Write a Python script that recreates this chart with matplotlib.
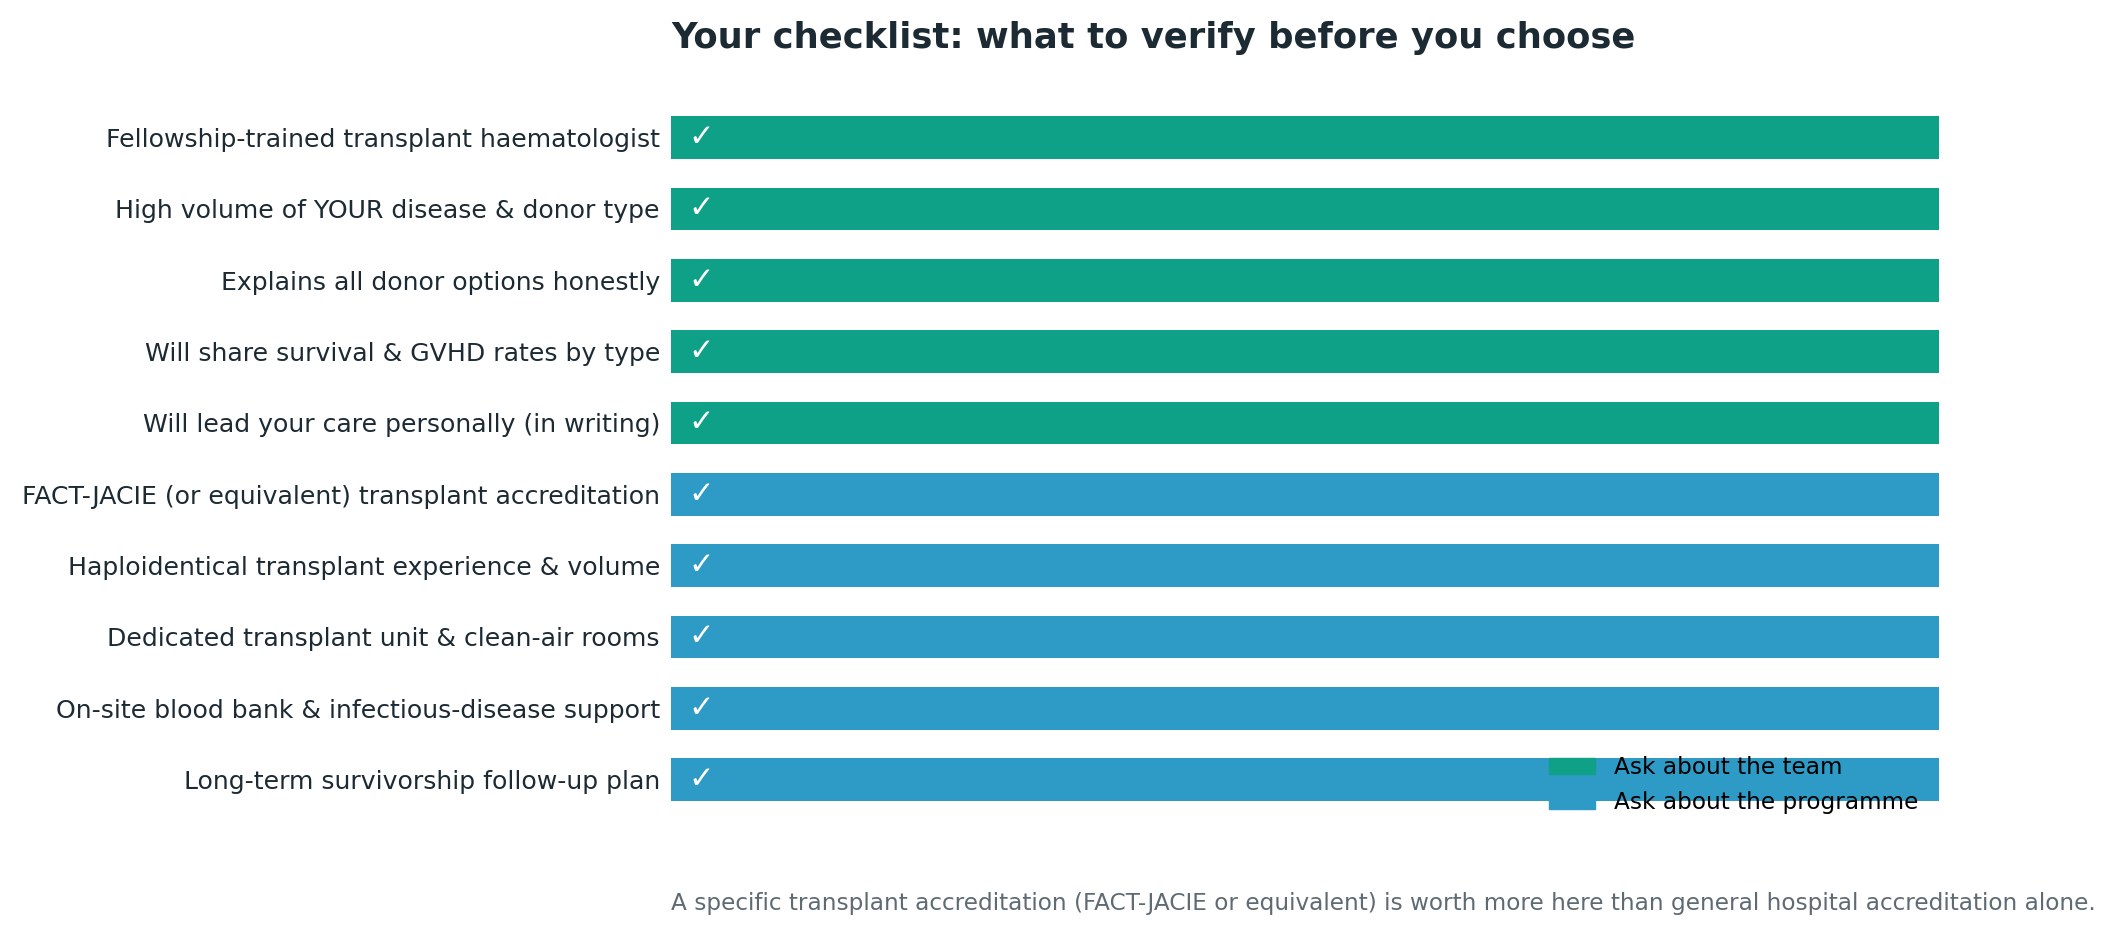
import matplotlib
matplotlib.use("Agg")
import matplotlib.pyplot as plt
from matplotlib.patches import Patch

categories = [
    "Fellowship-trained transplant haematologist",
    "High volume of YOUR disease & donor type",
    "Explains all donor options honestly",
    "Will share survival & GVHD rates by type",
    "Will lead your care personally (in writing)",
    "FACT-JACIE (or equivalent) transplant accreditation",
    "Haploidentical transplant experience & volume",
    "Dedicated transplant unit & clean-air rooms",
    "On-site blood bank & infectious-disease support",
    "Long-term survivorship follow-up plan",
]
groups = ["team"] * 5 + ["programme"] * 5
values = [1] * 10
group_labels = {"team": "Ask about the team", "programme": "Ask about the programme"}
group_colors = {"team": "#0ea187", "programme": "#2e9ac6"}

title = "Your checklist: what to verify before you choose"
footnote = ("A specific transplant accreditation (FACT-JACIE or equivalent) is worth "
            "more here than general hospital accreditation alone.")

fig = plt.figure(figsize=(21.17, 9.35), dpi=100)
ax = fig.add_axes([0.317, 0.128, 0.599, 0.763])

ypos = list(range(len(categories)))
colors = [group_colors[g] for g in groups]
ax.barh(ypos, values, height=0.6, color=colors)
for y, v in zip(ypos, values):
    ax.text(0.014, y, "\u2713", color="white", fontsize=22, ha="left", va="center")

ax.set_xlim(0, 1)
ax.set_ylim(len(categories) - 0.5, -0.5)
ax.set_yticks(ypos)
ax.set_yticklabels(categories, fontsize=18.1, color="#1c2a33")
ax.set_xticks([])
ax.tick_params(axis="y", length=0, pad=8)
for s in ax.spines.values():
    s.set_visible(False)

handles = [Patch(color=group_colors[k], label=group_labels[k]) for k in ["team", "programme"]]
ax.legend(handles=handles, loc="lower right", bbox_to_anchor=(1, -0.027),
          frameon=False, fontsize=16.7)

fig.text(0.317, 1 - 48 / 935, title, fontsize=25.5, fontweight="bold",
         color="#1c2a33", ha="left", va="baseline")
fig.text(0.317, 0.034, footnote, fontsize=16.7, color="#5f6b73", ha="left", va="center")

fig.savefig("out.png", dpi=100)
